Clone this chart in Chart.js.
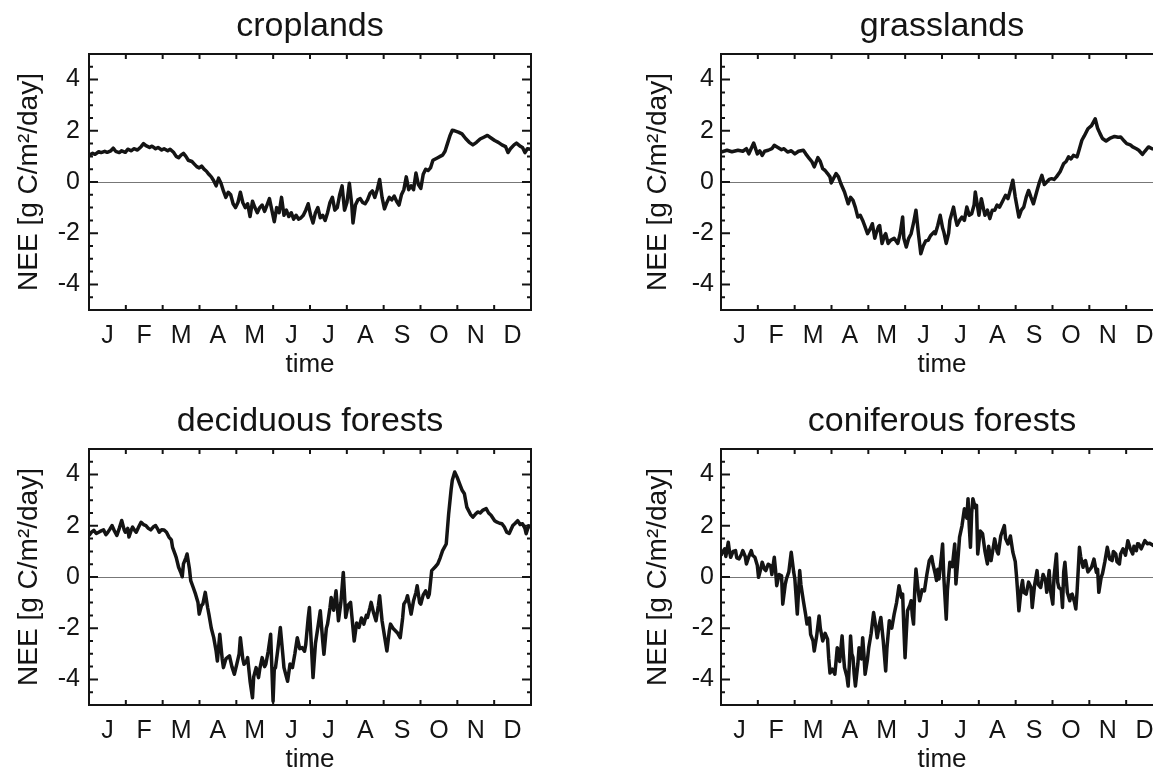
<!DOCTYPE html>
<html><head><meta charset="utf-8">
<script src="https://cdn.jsdelivr.net/npm/chart.js@4.4.1/dist/chart.umd.min.js"></script>
<style>
html,body{margin:0;padding:0;background:#fff;overflow:hidden;width:1153px;height:772px;position:relative;}
canvas{position:absolute;}
</style></head><body>
<canvas id="c1" width="570" height="386" style="left:0px;top:0px;width:570px;height:386px"></canvas>
<canvas id="c2" width="600" height="386" style="left:580px;top:0px;width:600px;height:386px"></canvas>
<canvas id="c3" width="570" height="386" style="left:0px;top:395px;width:570px;height:386px"></canvas>
<canvas id="c4" width="600" height="386" style="left:580px;top:395px;width:600px;height:386px"></canvas>
<script>
const MONTHS = ['J','F','M','A','M','J','J','A','S','O','N','D'];
const Y_TICKS = [-4,-2,0,2,4];
const PANEL_TITLES = ['croplands','grasslands','deciduous forests','coniferous forests'];
const Y_TITLE = 'NEE [g C/m\u00B2/day]';
const X_TITLE = 'time';

const CROP_DAY = [
0,3,5,8,10,13,15,18,20,22,
25,27,30,32,35,37,40,43,45,47,
50,52,55,57,60,62,65,67,70,72,
74,76,78,80,82,85,87,89,91,93,
95,97,99,101,103,105,107,109,111,113,
115,117,119,121,123,125,127,129,131,133,
135,137,139,141,143,145,147,149,151,153,
155,157,159,161,163,165,167,169,171,173,
175,177,179,181,183,185,187,189,191,193,
195,197,199,201,203,205,207,209,211,213,
215,217,218,220,222,224,226,228,230,232,
234,236,238,240,242,244,246,248,250,252,
254,256,258,260,262,264,266,268,270,272,
274,276,278,280,282,284,286,288,290,292,
294,296,298,300,302,305,308,311,314,317,
320,323,326,329,332,335,338,341,344,346,
348,351,353,356,358,360,362,365];
const CROP_NEE = [
1.05,1.12,1.08,1.18,1.15,1.2,1.16,1.22,1.32,1.2,
1.15,1.22,1.16,1.28,1.22,1.3,1.25,1.38,1.5,1.42,
1.35,1.4,1.3,1.35,1.25,1.3,1.22,1.28,1.15,1.0,
0.95,1.05,1.12,1.0,0.85,0.8,0.7,0.6,0.55,0.62,
0.5,0.42,0.3,0.2,0.05,-0.15,0.15,-0.05,-0.35,-0.6,
-0.4,-0.5,-0.85,-1.0,-0.8,-0.4,-0.8,-1.0,-0.85,-1.35,
-0.75,-1.0,-1.2,-1.0,-0.9,-1.15,-0.9,-0.65,-1.1,-1.55,
-1.0,-1.2,-0.6,-1.3,-1.1,-1.35,-1.2,-1.45,-1.3,-1.45,
-1.4,-1.3,-1.1,-0.85,-1.3,-1.6,-1.2,-1.0,-1.4,-1.3,
-1.5,-1.2,-0.8,-0.6,-1.1,-1.0,-0.5,-0.15,-1.1,-0.8,
-0.05,-0.9,-1.6,-0.9,-0.7,-0.65,-0.8,-0.85,-0.7,-0.45,
-0.35,-0.6,-0.3,0.1,-0.6,-1.05,-0.8,-0.6,-0.7,-0.55,
-0.75,-0.9,-0.5,-0.3,0.2,-0.3,-0.15,-0.3,0.35,-0.1,
-0.25,0.3,0.5,0.45,0.55,0.85,0.9,0.95,1.0,1.05,
1.2,1.5,1.8,2.02,2.0,1.95,1.88,1.7,1.55,1.45,
1.55,1.68,1.75,1.82,1.72,1.62,1.55,1.45,1.38,1.15,
1.3,1.45,1.52,1.4,1.35,1.15,1.3,1.28];

const GRASS_DAY = [
0,5,9,14,18,21,23,27,30,32,
34,36,39,42,44,47,50,52,55,58,
61,64,68,70,73,75,77,80,82,84,
86,88,90,91,93,95,97,99,102,105,
107,109,111,113,115,117,119,121,123,125,
127,128,130,131,133,135,136,138,140,143,
146,148,150,151,153,155,157,159,161,163,
165,167,169,171,173,176,177,179,181,183,
184,186,188,189,192,194,195,197,199,201,
203,205,207,209,210,212,213,215,217,218,
220,222,224,226,228,230,232,235,237,239,
241,243,246,248,250,252,254,256,258,261,
263,265,267,269,271,273,275,277,280,283,
285,287,289,291,294,296,298,300,303,306,
309,311,313,315,318,321,325,328,330,333,
335,338,340,343,345,348,350,353,356,360,
365];
const GRASS_NEE = [
1.17,1.24,1.18,1.24,1.2,1.3,1.1,1.52,1.1,1.22,
1.04,1.2,1.24,1.3,1.43,1.35,1.26,1.3,1.17,1.22,
1.1,1.2,1.24,1.1,0.91,0.8,0.59,0.95,0.8,0.52,
0.45,0.33,0.2,-0.04,0.15,0.33,0.2,-0.07,-0.39,-0.85,
-0.6,-0.72,-1.0,-1.37,-1.3,-1.5,-1.75,-2.02,-1.85,-1.63,
-2.2,-2.02,-1.75,-1.7,-2.4,-2.1,-2.02,-2.4,-2.28,-2.2,
-2.4,-2.0,-1.37,-2.2,-2.54,-2.2,-2.02,-1.6,-1.1,-2.0,
-2.8,-2.5,-2.3,-2.28,-2.1,-1.95,-2.02,-1.7,-1.3,-1.8,
-1.95,-2.4,-2.0,-1.5,-0.98,-1.5,-1.69,-1.5,-1.37,-1.5,
-0.98,-1.3,-1.24,-0.9,-0.39,-1.0,-1.3,-0.65,-1.1,-1.3,
-1.1,-1.43,-1.1,-1.1,-0.9,-0.98,-0.8,-0.52,-0.65,-0.3,
0.07,-0.59,-1.37,-1.1,-0.98,-0.6,-0.33,-0.6,-0.85,-0.33,
0.0,0.26,-0.1,0.0,0.1,0.13,0.1,0.2,0.4,0.72,
0.8,0.98,0.9,1.04,0.98,1.3,1.63,1.8,2.08,2.2,
2.47,2.1,1.89,1.7,1.6,1.7,1.78,1.75,1.76,1.6,
1.5,1.45,1.37,1.3,1.24,1.08,1.2,1.37,1.3,1.28,
1.25];

const DECID_DAY = [
0,2,4,6,8,10,12,14,15,17,
19,21,23,25,27,29,30,32,33,35,
36,38,39,41,43,45,47,49,51,53,
55,57,58,60,62,64,66,68,69,71,
72,74,76,77,78,80,81,83,84,86,
88,90,91,93,94,96,98,99,101,103,
105,106,108,110,111,113,116,118,120,122,
124,125,127,128,130,131,133,135,136,138,
140,141,143,145,146,148,150,152,153,154,
156,158,160,161,163,164,166,168,170,172,
174,176,178,179,181,182,184,185,187,189,
191,193,194,196,197,199,200,202,204,206,
208,210,212,214,216,218,219,221,223,225,
227,229,230,232,233,235,237,239,240,242,
244,246,248,249,251,253,255,257,259,260,
262,263,265,266,268,270,271,273,274,276,
278,280,281,283,286,288,290,292,295,297,
299,300,302,304,306,308,310,312,315,317,
319,321,323,325,328,330,332,335,337,339,
341,343,345,347,350,352,354,356,358,360,
361,363,365];
const DECID_NEE = [
1.62,1.75,1.82,1.7,1.75,1.8,1.84,1.65,1.71,1.85,
2.01,1.8,1.62,1.9,2.21,1.85,1.75,1.9,1.56,1.85,
1.95,1.8,1.75,1.95,2.14,2.05,2.01,1.9,1.84,1.95,
2.01,1.85,1.75,1.85,1.84,1.75,1.56,1.45,1.16,0.9,
0.77,0.38,0.15,0.01,0.51,0.75,0.9,0.3,-0.14,-0.4,
-0.67,-1.0,-1.45,-1.1,-1.06,-0.6,-1.2,-1.45,-2.0,-2.37,
-2.9,-3.28,-2.24,-3.2,-3.54,-3.2,-3.08,-3.5,-3.8,-3.41,
-3.0,-2.37,-3.2,-3.41,-3.3,-3.15,-4.07,-4.72,-3.9,-3.54,
-3.93,-3.6,-3.15,-3.5,-3.41,-2.9,-2.24,-4.85,-3.6,-3.54,
-2.8,-1.97,-3.0,-3.54,-3.9,-4.07,-3.4,-3.54,-3.0,-2.37,
-2.8,-2.76,-2.9,-2.63,-1.6,-1.19,-3.0,-3.93,-2.6,-1.97,
-1.32,-2.5,-3.02,-2.0,-1.84,-1.2,-0.8,-1.3,-0.54,-1.71,
-1.0,0.18,-1.58,-1.1,-0.99,-2.0,-2.5,-1.8,-1.97,-1.6,
-1.84,-1.5,-1.58,-1.2,-0.99,-1.4,-1.71,-1.1,-0.73,-1.71,
-2.3,-2.89,-2.1,-1.84,-2.0,-2.1,-2.2,-2.37,-1.6,-1.06,
-0.9,-0.73,-1.2,-1.45,-0.93,-0.6,-0.34,-1.0,-1.06,-0.7,
-0.54,-0.8,-0.67,0.25,0.4,0.51,0.75,1.03,1.29,2.47,
3.4,3.78,4.1,3.9,3.65,3.4,3.25,2.73,2.45,2.34,
2.45,2.54,2.5,2.6,2.67,2.5,2.41,2.2,2.14,2.1,
2.08,1.95,1.75,1.7,2.01,2.1,2.2,2.05,2.08,1.9,
1.69,2.0,1.95];

const CONIF_DAY = [
0,1,3,4,6,7,8,10,12,13,
15,17,18,20,21,23,25,26,28,30,
31,33,34,36,37,39,41,42,44,45,
46,48,50,51,53,54,56,58,60,61,
63,65,66,68,70,71,73,74,76,77,
79,81,82,84,86,88,89,90,92,94,
95,96,98,100,101,102,104,105,106,107,
108,109,110,111,113,114,116,117,118,119,
121,122,124,126,128,129,131,132,134,136,
137,139,141,143,145,147,149,150,151,152,
153,154,156,157,158,159,160,161,163,164,
166,168,170,172,174,175,177,178,179,180,
182,183,184,186,187,189,191,193,194,196,
197,199,201,203,204,205,206,207,208,210,
211,212,214,216,218,220,221,223,225,226,
228,229,231,234,235,237,239,241,243,244,
245,246,248,249,250,252,254,256,257,259,
261,262,264,266,268,269,271,272,274,275,
277,278,279,281,282,283,284,286,288,289,
290,292,293,294,296,297,299,300,301,303,
306,308,310,311,312,314,315,317,319,321,
323,324,326,327,329,330,332,334,336,338,
340,341,343,344,345,347,350,352,354,357,
359,361,365];
const CONIF_NEE = [
0.84,0.95,1.1,0.8,1.36,1.0,0.77,1.0,1.03,0.75,
0.71,0.9,1.03,0.8,0.51,0.8,1.03,0.85,0.77,0.45,
-0.01,0.35,0.58,0.3,0.25,0.5,0.44,0.1,0.77,0.3,
-0.34,0.1,0.05,-1.06,-0.3,-0.08,0.2,0.97,0.2,-0.08,
-1.45,0.25,-0.3,-0.93,-1.5,-1.84,-1.6,-2.24,-2.5,-2.89,
-2.3,-1.52,-2.0,-2.5,-2.2,-2.43,-3.2,-3.75,-3.6,-3.8,
-3.3,-2.76,-3.3,-2.3,-3.0,-3.54,-3.9,-4.26,-3.4,-2.3,
-3.0,-3.15,-3.8,-4.26,-3.4,-2.76,-3.2,-2.37,-3.0,-3.8,
-3.2,-2.76,-2.2,-1.39,-2.0,-2.37,-1.8,-1.58,-2.5,-3.67,
-2.8,-1.71,-2.0,-1.45,-1.0,-0.34,-0.8,-0.67,-2.0,-3.15,
-2.2,-1.32,-1.1,-0.93,-1.5,-1.84,-0.5,0.31,-0.6,-0.93,
-0.5,-0.54,0.1,0.64,0.8,0.51,0.1,-0.14,0.3,-0.08,
0.8,1.29,0.0,-1.65,-0.5,0.58,0.4,1.29,-0.27,0.9,
1.56,2.0,2.67,2.3,3.06,2.0,1.16,2.5,3.06,2.7,
2.8,0.9,1.8,1.69,1.0,0.51,1.2,0.64,1.2,1.49,
1.0,0.9,1.6,2.01,1.5,1.29,1.6,0.97,0.6,0.05,
-0.6,-1.32,-0.4,-0.14,-0.6,-0.67,-0.2,-0.41,-1.19,-0.3,
0.25,-0.3,-0.41,0.1,-0.14,-0.6,0.25,-0.5,-1.06,0.0,
0.9,-0.2,-0.41,-0.5,-1.19,0.2,0.58,-0.6,-0.93,-0.7,
-0.67,-1.0,-1.25,-0.6,1.16,0.8,0.38,0.6,0.64,0.2,
0.38,0.7,0.18,0.3,-0.6,0.0,0.12,0.6,1.16,0.7,
0.64,1.0,0.9,0.6,0.51,0.9,1.1,0.85,1.42,1.1,
0.9,1.2,1.03,1.3,1.29,1.1,1.42,1.3,1.32,1.23,
1.3,1.3,1.25];

const YEAR_DAYS = 365;
const FONT = "'Liberation Sans', Arial, Helvetica, sans-serif";
const INK = '#141414';

function pairs(days, vals){
  const n = Math.min(days.length, vals.length);
  if (days.length !== vals.length) console.error('length mismatch', days.length, vals.length);
  const out = [];
  for (let i = 0; i < n; i++) out.push({x: days[i], y: vals[i]});
  return out;
}

const framePlugin = {
  id: 'frameTicks',
  beforeDatasetsDraw(chart){
    const {ctx, chartArea: a, scales: {y}} = chart;
    const y0 = Math.round(y.getPixelForValue(0)) + 0.5;
    ctx.save();
    ctx.strokeStyle = '#777';
    ctx.lineWidth = 1.2;
    ctx.beginPath(); ctx.moveTo(a.left, y0); ctx.lineTo(a.right, y0); ctx.stroke();
    ctx.restore();
  },
  afterDraw(chart, args, opts){
    const {ctx, chartArea: a, scales: {x, y}} = chart;
    ctx.save();
    ctx.strokeStyle = INK;
    ctx.lineWidth = 2;
    ctx.strokeRect(a.left, a.top, a.right - a.left, a.bottom - a.top);
    ctx.beginPath();
    for (let k = 1; k < 12; k++) {
      const px = x.getPixelForValue(k * YEAR_DAYS / 12);
      ctx.moveTo(px, a.bottom); ctx.lineTo(px, a.bottom - 5);
      ctx.moveTo(px, a.top); ctx.lineTo(px, a.top + 5);
    }
    for (let v = -4.5; v <= 4.5; v += 0.5) {
      const py = y.getPixelForValue(v);
      const len = (Math.abs(v % 2) < 1e-9) ? 9 : 4;
      ctx.moveTo(a.left, py); ctx.lineTo(a.left + len, py);
      ctx.moveTo(a.right, py); ctx.lineTo(a.right - len, py);
    }
    ctx.stroke();
    ctx.fillStyle = INK;
    ctx.font = opts.titleSize + 'px ' + FONT;
    ctx.textAlign = 'center';
    ctx.textBaseline = 'middle';
    ctx.fillText(opts.title, (a.left + a.right) / 2, opts.titleY);
    ctx.restore();
  }
};

function makePanel(id, idx, days, vals, axisW, padRight, yTitlePad, yTickPad){
  const ctx = document.getElementById(id);
  return new Chart(ctx, {
    type: 'line',
    data: { datasets: [{
      data: pairs(days, vals),
      borderColor: INK,
      borderWidth: 3.5,
      pointRadius: 0,
      tension: 0,
      borderJoinStyle: 'round'
    }]},
    plugins: [framePlugin],
    options: {
      responsive: false,
      animation: false,
      devicePixelRatio: 1,
      layout: { padding: { left: 0, right: padRight, top: 54, bottom: 0 } },
      plugins: {
        legend: { display: false },
        tooltip: { enabled: false },
        title: { display: false },
        frameTicks: { title: PANEL_TITLES[idx], titleSize: 34, titleY: 27 }
      },
      scales: {
        x: {
          type: 'linear', min: 0, max: YEAR_DAYS,
          grid: { display: false, drawTicks: false },
          border: { display: false },
          afterBuildTicks: s => { s.ticks = MONTHS.map((m, k) => ({ value: (k + 0.5) * YEAR_DAYS / 12 })); },
          afterFit: s => { s.height = 76; },
          ticks: {
            autoSkip: false, maxRotation: 0, padding: 11, color: INK,
            font: { family: FONT, size: 25 },
            callback: (v, i) => MONTHS[i]
          },
          title: { display: true, text: X_TITLE, color: INK, font: { family: FONT, size: 26 }, padding: { top: 0, bottom: 6 } }
        },
        y: {
          type: 'linear', min: -5, max: 5,
          grid: { display: false, drawTicks: false },
          border: { display: false },
          afterBuildTicks: s => { s.ticks = Y_TICKS.map(v => ({ value: v })); },
          afterFit: s => { s.width = axisW; },
          ticks: {
            padding: yTickPad, color: INK,
            font: { family: FONT, size: 25 },
            callback: v => String(v)
          },
          title: { display: true, text: Y_TITLE, color: INK, font: { family: FONT, size: 28 }, padding: { top: yTitlePad, bottom: 0 } }
        }
      }
    }
  });
}

makePanel('c1', 0, CROP_DAY, CROP_NEE, 89, 39, 12, 9);
makePanel('c2', 1, GRASS_DAY, GRASS_NEE, 141, 17, 61, 7);
makePanel('c3', 2, DECID_DAY, DECID_NEE, 89, 39, 12, 9);
makePanel('c4', 3, CONIF_DAY, CONIF_NEE, 141, 17, 61, 7);
</script>
</body></html>
